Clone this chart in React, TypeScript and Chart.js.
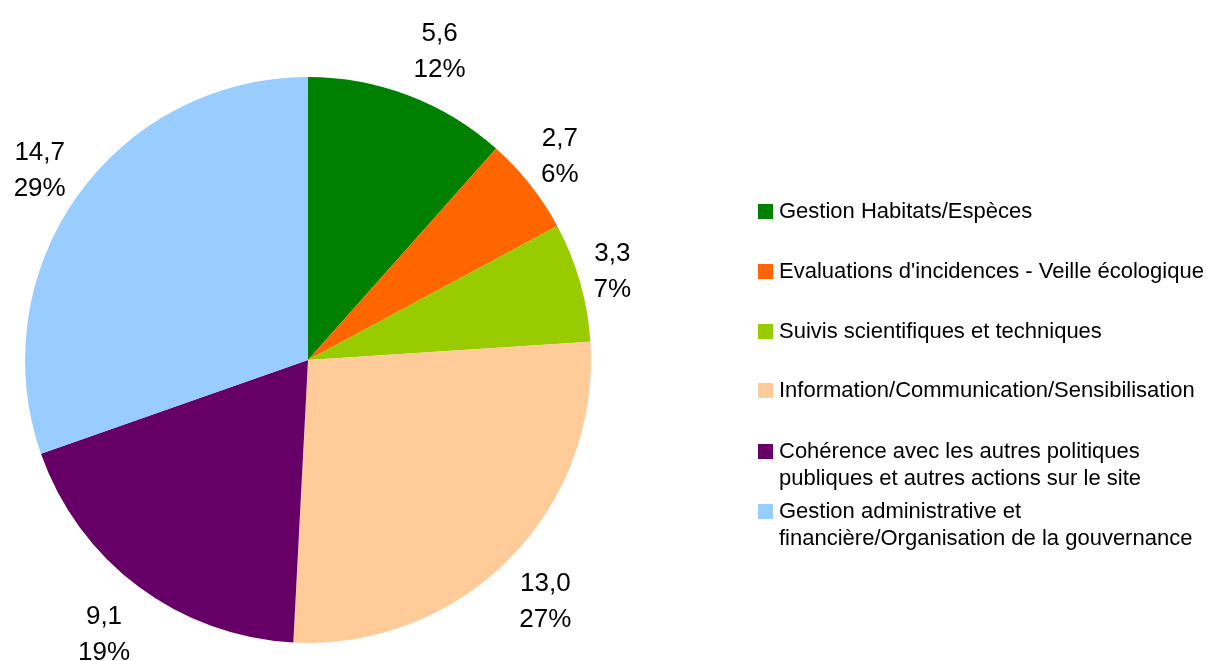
import React, { useEffect, useRef } from "react";
import { Chart, registerables } from "chart.js";

Chart.register(...registerables);

const categories = [
  "Gestion Habitats/Espèces",
  "Evaluations d'incidences - Veille écologique",
  "Suivis scientifiques et techniques",
  "Information/Communication/Sensibilisation",
  "Cohérence avec les autres politiques publiques et autres actions sur le site",
  "Gestion administrative et financière/Organisation de la gouvernance",
];
const values = [5.6, 2.7, 3.3, 13.0, 9.1, 14.7];
const valueLabels = ["5,6", "2,7", "3,3", "13,0", "9,1", "14,7"];
const percentLabels = ["12%", "6%", "7%", "27%", "19%", "29%"];
const colors = ["#008000", "#ff6600", "#99cc00", "#ffcc99", "#660066", "#99ccff"];
const legendLines = [
  ["Gestion Habitats/Espèces"],
  ["Evaluations d'incidences - Veille écologique"],
  ["Suivis scientifiques et techniques"],
  ["Information/Communication/Sensibilisation"],
  ["Cohérence avec les autres politiques", "publiques et autres actions sur le site"],
  ["Gestion administrative et", "financière/Organisation de la gouvernance"],
];

const FONT = "'Liberation Sans', Arial, sans-serif";

const labelPlugin = {
  id: "customLabels",
  afterDraw(chart: any) {
    const ctx = chart.ctx;
    const meta = chart.getDatasetMeta(0);
    ctx.save();
    // slice labels
    ctx.font = `26px ${FONT}`;
    ctx.fillStyle = "#000";
    ctx.textAlign = "center";
    ctx.textBaseline = "middle";
    const lh = 36;
    meta.data.forEach((arc: any, i: number) => {
      const mid = (arc.startAngle + arc.endAngle) / 2;
      const r = arc.outerRadius + 14;
      const px = arc.x + Math.cos(mid) * r;
      const py = arc.y + Math.sin(mid) * r;
      const lines = [valueLabels[i], percentLabels[i]];
      const w = Math.max(...lines.map((l) => ctx.measureText(l).width));
      const h = lines.length * lh;
      const sx = Math.max(-1, Math.min(1, Math.cos(mid) * 3));
      const sy = Math.max(-1, Math.min(1, Math.sin(mid) * 1.1));
      const cx = px + (w / 2) * sx;
      const cy = py + (h / 2) * sy + 5;
      lines.forEach((l, j) => {
        ctx.fillText(l, cx, cy - h / 2 + lh / 2 + j * lh);
      });
    });
    // legend
    ctx.font = `22px ${FONT}`;
    ctx.textAlign = "left";
    ctx.textBaseline = "middle";
    const itemY = [212, 272, 332, 391, 452, 512];
    const llh = 27;
    legendLines.forEach((lines, i) => {
      ctx.fillStyle = colors[i];
      ctx.fillRect(758, itemY[i] - 8, 15, 15);
      ctx.fillStyle = "#000";
      lines.forEach((l, j) => ctx.fillText(l, 779, itemY[i] + j * llh));
    });
    ctx.restore();
  },
};

export default function App() {
  const ref = useRef<HTMLCanvasElement>(null);
  useEffect(() => {
    if (!ref.current) return;
    const chart = new Chart(ref.current, {
      type: "pie",
      data: {
        labels: categories,
        datasets: [
          {
            data: values,
            backgroundColor: colors,
            borderWidth: 0,
          },
        ],
      },
      options: {
        responsive: false,
        animation: false,
        layout: { padding: { left: 25, right: 615, top: 77, bottom: 18 } },
        plugins: {
          legend: { display: false },
          tooltip: { enabled: false },
        },
      },
      plugins: [labelPlugin],
    });
    return () => chart.destroy();
  }, []);
  return (
    <div style={{ position: "fixed", left: 0, top: 0, width: 1206, height: 661, background: "#fff" }}>
      <canvas ref={ref} width={1206} height={661} />
    </div>
  );
}
